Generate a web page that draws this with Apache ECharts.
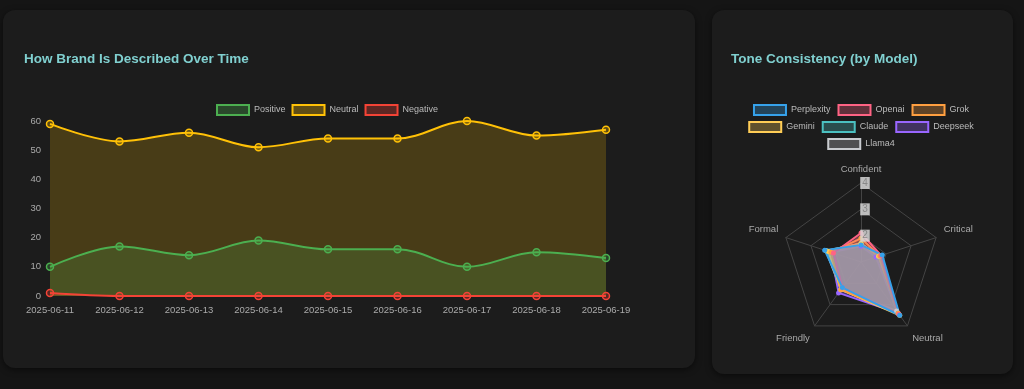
<!DOCTYPE html>
<html>
<head>
<meta charset="utf-8">
<script src="https://cdn.jsdelivr.net/npm/echarts@6/dist/echarts.min.js"></script>
<style>
html,body{margin:0;padding:0;background:#151515;}
.card{position:absolute;background:#1c1c1c;border-radius:12px;box-shadow:0 2px 6px rgba(0,0,0,0.5);}
.ch{position:absolute;top:0;height:389px;}
</style>
</head>
<body>
<div class="card" style="left:3px;top:10px;width:692px;height:358px;"></div>
<div class="card" style="left:712px;top:10px;width:301px;height:364px;"></div>
<div id="c1" class="ch" style="left:0;width:700px;"></div>
<div id="c2" class="ch" style="left:700px;width:322px;"></div>
<script>
const dates = ['2025-06-11','2025-06-12','2025-06-13','2025-06-14','2025-06-15','2025-06-16','2025-06-17','2025-06-18','2025-06-19'];
const positive = [10, 17, 14, 19, 16, 16, 10, 15, 13];
const neutral  = [59, 53, 56, 51, 54, 54, 60, 55, 57];
const negative = [1, 0, 0, 0, 0, 0, 0, 0, 0];

// tone axes in clockwise order starting at top
const toneAxes = ['Confident','Critical','Neutral','Friendly','Formal'];
const models = ['Perplexity','Openai','Grok','Gemini','Claude','Deepseek','Llama4'];
const modelColors = ['#36a2eb','#ff6384','#ff9f40','#ffcd56','#4bc0c0','#9966ff','#c9cbcf'];
const perplexity = [1.65, 1.85, 3.5, 2.2, 2.45];
const openai     = [2.1, 1.8, 3.45, 2.2, 2.1];
const grok       = [1.9, 1.75, 3.4, 2.3, 2.2];
const gemini     = [1.7, 1.7, 3.5, 2.3, 2.3];
const claude     = [1.7, 1.7, 3.4, 2.3, 2.35];
const deepseek   = [1.6, 1.6, 3.4, 2.45, 2.2];
const llama4     = [1.7, 1.7, 3.3, 2.3, 2.4];
const modelValues = [perplexity, openai, grok, gemini, claude, deepseek, llama4];
const radarTicks = ['2','3','4'];

function rgba(hex, a){
  const n = parseInt(hex.slice(1),16);
  return 'rgba(' + (n>>16&255) + ',' + (n>>8&255) + ',' + (n&255) + ',' + a + ')';
}
// ECharts radar runs counter-clockwise; reorder to draw clockwise like the reference
const ccwOrder = [0,4,3,2,1];
const ccw = arr => ccwOrder.map(i => arr[i]);

const lineDefs = [
  {name:'Positive', color:'#4caf50', data:positive},
  {name:'Neutral', color:'#ffc107', data:neutral},
  {name:'Negative', color:'#f44336', data:negative}
];

const font = '"Liberation Sans", Arial, sans-serif';
const legendItem = (name, color) => ({name, itemStyle:{color:rgba(color,0.3), borderColor:color, borderWidth:2}});
const legendText = {color:'#bbb', fontSize:9, fontFamily:font};
const titleStyle = {color:'#80d0d0', fontSize:13.5, fontWeight:'bold', fontFamily:font};
const legendBase = {left:'center', itemWidth:32, itemHeight:10, itemGap:7, itemTextGap:4, icon:'rect', textStyle:legendText, selectedMode:false, padding:0};

const chart1 = echarts.init(document.getElementById('c1'));
const lineSeries = lineDefs.slice().reverse().map(d => ({
  type:'line', name:d.name, data:d.data, smooth:0.35,
  symbol:'circle', symbolSize:7, showSymbol:true,
  lineStyle:{color:d.color, width:2},
  itemStyle:{color:rgba(d.color,0.28), borderColor:d.color, borderWidth:1.5},
  areaStyle:{color:rgba(d.color,0.28), origin:'start'},
  emphasis:{disabled:true}
}));
chart1.setOption({
  animation:false,
  textStyle:{fontFamily:font},
  title:{text:'How Brand Is Described Over Time', left:24, top:52, padding:0, textStyle:titleStyle},
  legend:Object.assign({}, legendBase, {data:lineDefs.map(d=>legendItem(d.name,d.color)), left:216, top:104, itemGap:6, itemTextGap:3}),
  grid:{left:50, right:94, top:121, bottom:93},
  xAxis:{type:'category', data:dates, boundaryGap:false,
    axisLine:{show:false}, axisTick:{show:false}, splitLine:{show:false},
    axisLabel:{color:'#aaa', fontSize:9.5, margin:9, interval:0}},
  yAxis:{type:'value', min:0, max:60, interval:10,
    axisLine:{show:false}, axisTick:{show:false}, splitLine:{show:false},
    axisLabel:{color:'#aaa', fontSize:9.5, margin:9}},
  series:lineSeries
});

const chart2 = echarts.init(document.getElementById('c2'));
const radarSeries = models.map((m,i)=>({
  type:'radar', name:m,
  symbol:'circle', symbolSize:5,
  lineStyle:{color:modelColors[i], width:2},
  itemStyle:{color:modelColors[i]},
  areaStyle:{color:rgba(modelColors[i],0.5)},
  emphasis:{disabled:true},
  data:[{name:m, value:ccw(modelValues[i])}]
})).reverse();
chart2.setOption({
  animation:false,
  textStyle:{fontFamily:font},
  title:{text:'Tone Consistency (by Model)', left:31, top:52, padding:0, textStyle:titleStyle},
  legend:[
    Object.assign({}, legendBase, {data:[0,1,2].map(i=>legendItem(models[i],modelColors[i])), top:104}),
    Object.assign({}, legendBase, {data:[3,4,5].map(i=>legendItem(models[i],modelColors[i])), top:121}),
    Object.assign({}, legendBase, {data:[6].map(i=>legendItem(models[i],modelColors[i])), top:138})
  ],
  radar:{
    center:[161,262], radius:79, startAngle:90, shape:'polygon',
    splitNumber:3,
    indicator:ccw(toneAxes).map(n=>({name:n, min:1, max:4})),
    axisName:{color:'#aaa', fontSize:9.5, fontFamily:font, lineHeight:12,
      formatter:(n)=> (n==='Friendly'||n==='Neutral') ? '\n'+n : (n==='Critical'||n==='Formal') ? n+'\n' : n},
    nameGap:8,
    splitLine:{lineStyle:{color:'#444', width:1}},
    splitArea:{show:false},
    axisLine:{lineStyle:{color:'#444', width:1}}
  },
  polar:{center:[161,262], radius:79},
  angleAxis:{type:'value', startAngle:90, show:false, min:0, max:360},
  radiusAxis:{type:'value', min:1, max:4, interval:1,
    axisLine:{show:false}, axisTick:{show:false}, splitLine:{show:false},
    axisLabel:{showMinLabel:false, formatter:v=>radarTicks.includes(String(v))?String(v):'',
      color:'#888', fontSize:10, backgroundColor:'rgba(215,215,215,0.85)', padding:[1,2], margin:-4, align:'center', verticalAlign:'middle'},
    z:10},
  series:radarSeries
});
</script>
</body>
</html>
